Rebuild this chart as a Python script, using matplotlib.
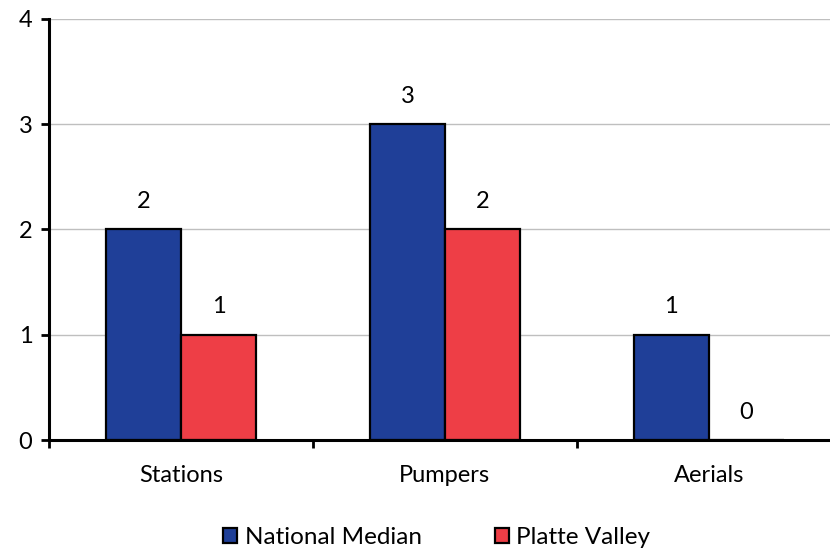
import matplotlib.pyplot as plt
import numpy as np

# ------------------------------
# Data
# ------------------------------
categories = ["Stations", "Pumpers", "Aerials"]
national_median = [2, 3, 1]
platte_valley = [1, 2, 0]
series_names = ["National Median", "Platte Valley"]

blue = "#1F3F98"
red = "#EE3E46"

plt.rcParams["font.family"] = ["Lato", "DejaVu Sans"]
fs = 17

fig = plt.figure(figsize=(8.3, 5.49), dpi=100)
ax = fig.add_axes([0.059, 0.1985, 0.954, 0.767])

x = np.arange(len(categories))
w = 0.284

b1 = ax.bar(x - w / 2, national_median, w, color=blue, edgecolor="black",
            linewidth=1.6, label=series_names[0], zorder=3)
b2 = ax.bar(x + w / 2, platte_valley, w, color=red, edgecolor="black",
            linewidth=1.6, label=series_names[1], zorder=3)

# value labels over each bar
for bars, vals in [(b1, national_median), (b2, platte_valley)]:
    for rect, v in zip(bars, vals):
        ax.annotate(str(v), (rect.get_x() + rect.get_width() / 2, v),
                    xytext=(0, 20), textcoords="offset points",
                    ha="center", va="center", fontsize=fs)

ax.set_xlim(-0.5, len(categories) - 0.5)
ax.set_ylim(0, 4)
ax.set_yticks([0, 1, 2, 3, 4])
ax.yaxis.grid(True, color="#BFBFBF", linewidth=1, zorder=0)

# category names centred, tick marks between groups
ax.set_xticks(x)
ax.set_xticklabels(categories, fontsize=fs)
ax.tick_params(axis="x", length=0, pad=18)
ax.set_xticks(np.arange(-0.5, len(categories)), minor=True)
ax.tick_params(axis="x", which="minor", length=6, width=2, direction="out")
ax.tick_params(axis="y", length=6, width=2, direction="out", labelsize=fs, pad=6)

for side in ["top", "right"]:
    ax.spines[side].set_visible(False)
for side in ["left", "bottom"]:
    ax.spines[side].set_linewidth(2.2)
    ax.spines[side].set_zorder(4)

leg = fig.legend(handles=[b1, b2], loc="lower center", bbox_to_anchor=(0.526, -0.038),
                 ncol=2, frameon=False, fontsize=17.5, handlelength=0.6,
                 handleheight=0.6, handletextpad=0.3, columnspacing=3.0)

fig.savefig("out.png", dpi=100)
